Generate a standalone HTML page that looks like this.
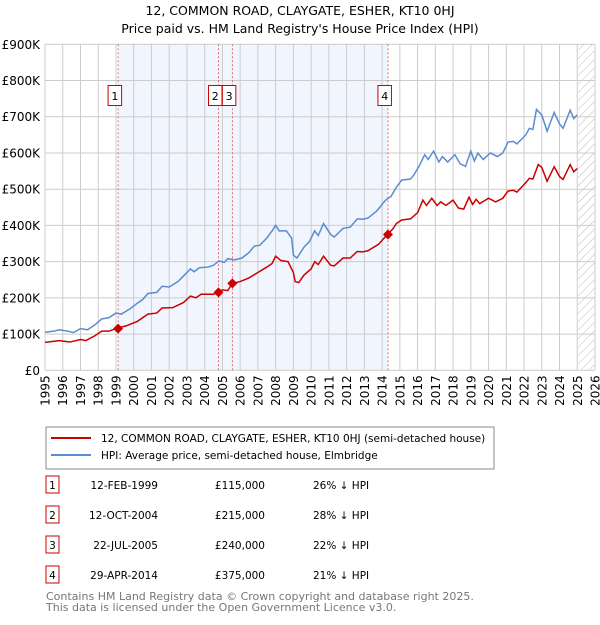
<!DOCTYPE html>
<html><head><meta charset="utf-8"><style>
body{margin:0;background:#fff;font-family:"Liberation Sans","DejaVu Sans",sans-serif;}
svg text{font-family:"DejaVu Sans","Liberation Sans",sans-serif;}
</style></head><body>
<svg id="c" width="600" height="620" xmlns="http://www.w3.org/2000/svg">
<defs><pattern id="hatch" width="6" height="6" patternUnits="userSpaceOnUse" patternTransform="rotate(45)"><line x1="0" y1="0" x2="0" y2="6" stroke="#bbb" stroke-width="1"/></pattern></defs>
<text x="300" y="15" text-anchor="middle" font-size="12.5">12, COMMON ROAD, CLAYGATE, ESHER, KT10 0HJ</text>
<text x="300" y="33" text-anchor="middle" font-size="12.5">Price paid vs. HM Land Registry's House Price Index (HPI)</text>
<g id="plot"></g>
<g>
<rect x="46" y="427" width="448" height="42" fill="#fff" stroke="#888"/>
<line x1="51" y1="438" x2="91" y2="438" stroke="#cc0000" stroke-width="2"/>
<text x="101" y="442" font-size="10.5">12, COMMON ROAD, CLAYGATE, ESHER, KT10 0HJ (semi-detached house)</text>
<line x1="51" y1="455" x2="91" y2="455" stroke="#5b8ccf" stroke-width="2"/>
<text x="101" y="459" font-size="10.5">HPI: Average price, semi-detached house, Elmbridge</text>
</g>
<g id="table" font-size="10.5"></g>
<text x="46" y="600" font-size="11" fill="#777">Contains HM Land Registry data © Crown copyright and database right 2025.</text>
<text x="46" y="611" font-size="11" fill="#777">This data is licensed under the Open Government Licence v3.0.</text>
</svg>
<script>
const yTicks=[0,100,200,300,400,500,600,700,800,900];
const yTickLabels=["£0","£100K","£200K","£300K","£400K","£500K","£600K","£700K","£800K","£900K"];
const years=[1995,1996,1997,1998,1999,2000,2001,2002,2003,2004,2005,2006,2007,2008,2009,2010,2011,2012,2013,2014,2015,2016,2017,2018,2019,2020,2021,2022,2023,2024,2025,2026];
const hpiT=[1995.0,1995.5,1995.8,1996.3,1996.6,1997.0,1997.4,1997.8,1998.2,1998.6,1999.0,1999.3,1999.8,2000.2,2000.5,2000.8,2001.3,2001.6,2002.0,2002.5,2002.9,2003.2,2003.4,2003.7,2004.2,2004.5,2004.8,2005.1,2005.3,2005.7,2006.1,2006.5,2006.8,2007.1,2007.5,2007.8,2008.0,2008.2,2008.6,2008.9,2009.0,2009.2,2009.6,2009.9,2010.2,2010.4,2010.7,2011.1,2011.3,2011.8,2012.2,2012.6,2012.9,2013.2,2013.7,2014.2,2014.5,2014.8,2015.1,2015.6,2015.8,2016.1,2016.4,2016.6,2016.9,2017.2,2017.4,2017.7,2018.1,2018.4,2018.7,2019.0,2019.2,2019.4,2019.7,2020.1,2020.5,2020.8,2021.1,2021.4,2021.6,2022.1,2022.3,2022.5,2022.7,2023.0,2023.3,2023.7,2024.0,2024.2,2024.6,2024.8,2025.0];
const hpiV=[105,108,112,108,104,115,112,125,142,145,158,155,170,185,195,212,215,232,230,245,265,280,272,283,285,290,302,298,308,305,310,325,343,345,365,385,400,385,385,365,318,310,340,355,385,372,405,375,368,392,395,418,417,420,440,470,480,505,525,528,540,565,595,582,605,575,590,575,595,570,563,605,578,600,582,600,590,600,630,632,625,650,668,665,720,705,660,712,680,668,718,695,705];
const ppT=[1995,1995.8,1996.4,1997,1997.3,1997.8,1998.2,1998.6,1999.1,1999.6,2000.2,2000.8,2001.3,2001.6,2002.2,2002.8,2003.2,2003.5,2003.8,2004.5,2004.8,2005.0,2005.3,2005.55,2006.0,2006.5,2007.0,2007.5,2007.8,2008.0,2008.3,2008.7,2009.0,2009.1,2009.3,2009.6,2010.0,2010.2,2010.4,2010.7,2011.1,2011.3,2011.8,2012.2,2012.6,2012.9,2013.2,2013.8,2014.3,2014.6,2014.8,2015.1,2015.6,2016.0,2016.3,2016.5,2016.8,2017.1,2017.3,2017.6,2018.0,2018.3,2018.6,2018.9,2019.1,2019.3,2019.5,2020.0,2020.4,2020.8,2021.1,2021.4,2021.6,2022.1,2022.3,2022.5,2022.8,2023.0,2023.3,2023.7,2024.0,2024.2,2024.6,2024.8,2025.0];
const ppV=[77,82,78,85,82,95,108,108,117,123,135,155,158,172,173,187,205,200,210,210,215,222,220,240,245,255,270,285,295,315,303,300,270,245,242,263,280,300,292,315,290,288,310,310,328,327,330,348,375,390,405,415,418,435,470,455,475,455,465,455,470,448,445,478,458,472,460,475,465,475,495,497,492,518,530,528,568,560,522,562,535,527,568,548,557];
const saleT=[1999.12,2004.78,2005.56,2014.33];
const saleV=[115,215,240,375];
const saleLabels=["1","2","3","4"];
const saleDates=["12-FEB-1999","12-OCT-2004","22-JUL-2005","29-APR-2014"];
const salePrices=["£115,000","£215,000","£240,000","£375,000"];
const saleDiffs=["26% ↓ HPI","28% ↓ HPI","22% ↓ HPI","21% ↓ HPI"];

const L=45,R=595,T=44.3,B=370.3;
const X=t=>L+(t-1995)/(2026-1995)*(R-L);
const Y=v=>B-v/900*(B-T);
const NS="http://www.w3.org/2000/svg";
const plot=document.getElementById('plot');
function mk(tag,attrs,parent){const e=document.createElementNS(NS,tag);for(const k in attrs)e.setAttribute(k,attrs[k]);(parent||plot).appendChild(e);return e;}
let e;
e=mk('rect',{x:X(saleT[0]),y:T,width:X(saleT[3])-X(saleT[0]),height:B-T,fill:'#eef3fc',opacity:0.8});


e=mk('rect',{x:X(2025.05),y:T,width:R-X(2025.05),height:B-T,fill:'url(#hatch)'});


yTicks.forEach((v,i)=>{
 e=mk('line',{x1:L,x2:R,y1:Y(v),y2:Y(v),stroke:'#ccc','stroke-width':1});
 
 
 e=mk('text',{x:L-5,y:Y(v)+4.5,'text-anchor':'end','font-size':12});
 e.textContent=yTickLabels[i];
 
 
});
years.forEach(y=>{
 e=mk('line',{x1:X(y),x2:X(y),y1:T,y2:B,stroke:'#ccc','stroke-width':1});
 
 
 e=mk('text',{x:0,y:0,'text-anchor':'end','font-size':12,transform:`translate(${X(y)+4.5},${B+5}) rotate(-90)`});
 e.textContent=y;
 
 
});
saleT.forEach((t,i)=>{
 e=mk('line',{x1:X(t),x2:X(t),y1:T,y2:B,stroke:'#e05050','stroke-width':0.8,'stroke-dasharray':'2,2'});
 
 
});
e=mk('polyline',{points:hpiT.map((t,i)=>X(t)+','+Y(hpiV[i])).join(' '),fill:'none',stroke:'#5b8ccf','stroke-width':1.5});


e=mk('polyline',{points:ppT.map((t,i)=>X(t)+','+Y(ppV[i])).join(' '),fill:'none',stroke:'#cc0000','stroke-width':1.5});


let prevRight=-1e9;
saleT.forEach((t,i)=>{
 const cx=X(t),cy=Y(saleV[i]);
 e=mk('polygon',{points:`${cx},${cy-5} ${cx+5},${cy} ${cx},${cy+5} ${cx-5},${cy}`,fill:'#cc0000'});
 
 
 let bx=cx-10;
 if(bx<prevRight) bx=prevRight;
 prevRight=bx+13.5;
 e=mk('rect',{x:bx,y:85.5,width:13.5,height:20,fill:'#fff',stroke:'#cc0000'});
 
 
 e=mk('text',{x:bx+6.75,y:100,'text-anchor':'middle','font-size':11});
 e.textContent=saleLabels[i];
 
 
});
const tb=document.getElementById('table');
saleLabels.forEach((s,i)=>{
 const y=476+i*30;
 e=mk('rect',{x:46,y:y,width:13,height:17,fill:'#fff',stroke:'#cc0000'},tb);
 
 
 e=mk('text',{x:52.5,y:y+13,'text-anchor':'middle'},tb);e.textContent=s;
 
 
 e=mk('text',{x:158,y:y+13,'text-anchor':'end'},tb);e.textContent=saleDates[i];
 
 
 e=mk('text',{x:265,y:y+13,'text-anchor':'end'},tb);e.textContent=salePrices[i];
 
 
 e=mk('text',{x:313,y:y+13},tb);e.textContent=saleDiffs[i];
 
 
});
</script>
</body></html>
